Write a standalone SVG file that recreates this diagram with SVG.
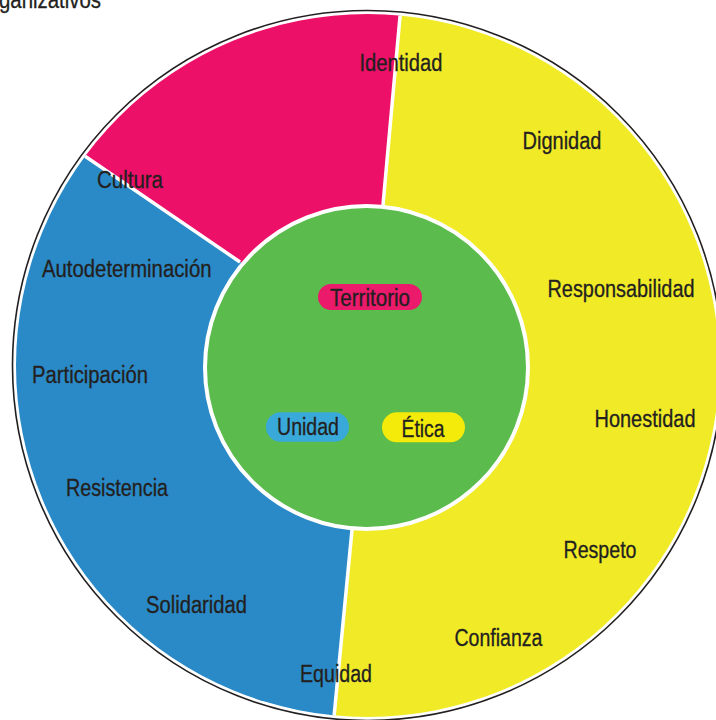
<svg xmlns="http://www.w3.org/2000/svg" width="716" height="720" viewBox="0 0 716 720">
  <style>
    text { font-family: "Liberation Sans", Arial, sans-serif; font-size: 23px; fill: #231f20; stroke: #231f20; stroke-width: 0.3; }
    .div { stroke: #ffffff; stroke-width: 3.5; fill: none; }
  </style>
  <defs>
    <clipPath id="disk">
      <circle cx="367.5" cy="365.5" r="351.5"/>
    </clipPath>
  </defs>
  <rect x="0" y="0" width="716" height="720" fill="#ffffff"/>
  <text x="-1" y="8" textLength="102" lengthAdjust="spacingAndGlyphs">ganizativos</text>

  <circle cx="367.5" cy="365.5" r="355" fill="#ffffff" stroke="#231f20" stroke-width="1.6"/>

  <g id="ring" clip-path="url(#disk)">
    <g id="sector-magenta">
      <polygon points="383,205 406,-50 -50,-50 -50,64 240,262 367,366" fill="#EC1068"/>
    </g>
    <g id="sector-yellow">
      <polygon points="383,205 406,-50 800,-50 800,800 326,800 352,530 367,366" fill="#F1EA27"/>
    </g>
    <g id="sector-blue">
      <polygon points="352,530 326,800 -50,800 -50,64 240,262 367,366" fill="#2A8AC7"/>
    </g>
    <g id="connectors">
      <line class="div" x1="383" y1="205" x2="406" y2="-50"/>
      <line class="div" x1="352" y1="530" x2="326" y2="800"/>
      <line class="div" x1="240" y1="262" x2="-50" y2="64"/>
    </g>
  </g>

  <g id="center">
    <circle cx="366.5" cy="367.5" r="161.5" fill="#5BBB4C" stroke="#ffffff" stroke-width="4"/>
  </g>

  <g id="territorio">
    <rect x="318" y="284" width="104" height="26" rx="13" fill="#EB1A6B"/>
    <text x="330" y="306" textLength="80" lengthAdjust="spacingAndGlyphs">Territorio</text>
  </g>
  <g id="unidad">
    <rect x="266" y="412.3" width="83" height="29.5" rx="14.7" fill="#39A9DA"/>
    <text x="277" y="435" textLength="62" lengthAdjust="spacingAndGlyphs">Unidad</text>
  </g>
  <g id="etica">
    <rect x="382" y="412.3" width="83" height="30" rx="15" fill="#F5EB0A"/>
    <text x="401.5" y="437.3" textLength="43" lengthAdjust="spacingAndGlyphs">Ética</text>
  </g>

  <g id="identidad"><text x="359.5" y="70.5" textLength="83" lengthAdjust="spacingAndGlyphs">Identidad</text></g>
  <g id="dignidad"><text x="522.5" y="149.3" textLength="79" lengthAdjust="spacingAndGlyphs">Dignidad</text></g>
  <g id="responsabilidad"><text x="547.5" y="296.7" textLength="147" lengthAdjust="spacingAndGlyphs">Responsabilidad</text></g>
  <g id="honestidad"><text x="594.5" y="426.7" textLength="101" lengthAdjust="spacingAndGlyphs">Honestidad</text></g>
  <g id="respeto"><text x="563.5" y="558.3" textLength="73" lengthAdjust="spacingAndGlyphs">Respeto</text></g>
  <g id="confianza"><text x="454.5" y="646" textLength="88" lengthAdjust="spacingAndGlyphs">Confianza</text></g>
  <g id="equidad"><text x="300" y="681.5" textLength="72" lengthAdjust="spacingAndGlyphs">Equidad</text></g>
  <g id="solidaridad"><text x="146" y="612.7" textLength="101" lengthAdjust="spacingAndGlyphs">Solidaridad</text></g>
  <g id="resistencia"><text x="66" y="495.7" textLength="102" lengthAdjust="spacingAndGlyphs">Resistencia</text></g>
  <g id="participacion"><text x="32" y="382.7" textLength="116" lengthAdjust="spacingAndGlyphs">Participación</text></g>
  <g id="autodeterminacion"><text x="42" y="276.7" textLength="169.5" lengthAdjust="spacingAndGlyphs">Autodeterminación</text></g>
  <g id="cultura"><text x="97" y="188.3" textLength="66" lengthAdjust="spacingAndGlyphs">Cultura</text></g>
</svg>
